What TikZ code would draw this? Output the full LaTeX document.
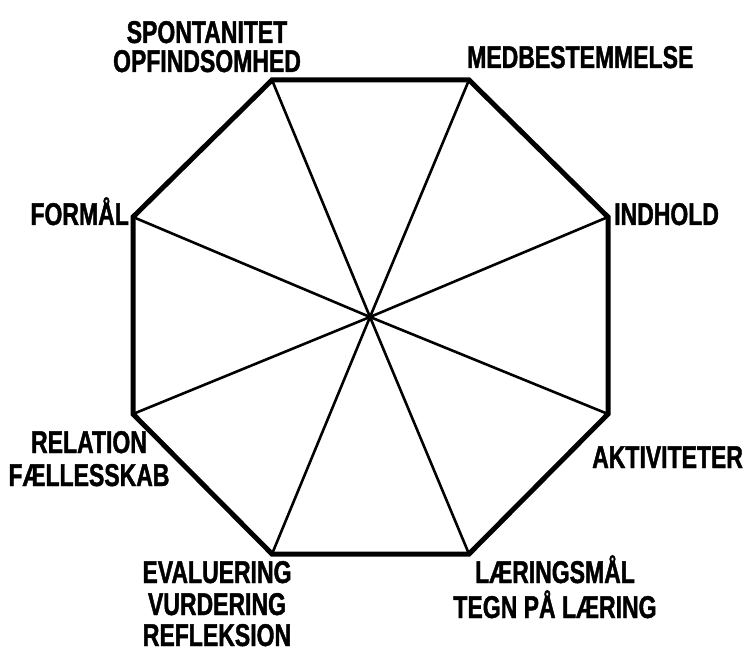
\documentclass[tikz,border=0pt]{standalone}
\usepackage{fontspec}
\setmainfont[FakeStretch=0.73,BoldFont={Liberation Sans Bold},BoldFeatures={FakeStretch=0.73,FakeBold=1.3}]{Liberation Sans}
\begin{document}
\begin{tikzpicture}[x=1pt,y=-1pt,
  lbl/.style={font=\fontsize{31.5}{32}\selectfont\bfseries, inner sep=0pt, anchor=base},
  rim/.style={line width=5pt, line join=miter},
  spoke/.style={line width=2.6pt}]
\useasboundingbox (0,0) rectangle (744,655);
\coordinate (c) at (370,317);
\coordinate (v1) at (272,80);
\coordinate (v2) at (469,80);
\coordinate (v3) at (608,217);
\coordinate (v4) at (608,414);
\coordinate (v5) at (469,554);
\coordinate (v6) at (272,554);
\coordinate (v7) at (133,414);
\coordinate (v8) at (133,217);
\foreach \i in {1,...,8} \draw[spoke] (c) -- (v\i);
\draw[rim] (v1) -- (v2) -- (v3) -- (v4) -- (v5) -- (v6) -- (v7) -- (v8) -- cycle;
\fill (c) circle (3pt);
\node[lbl] (s1) at (207,43) {SPONTANITET};
\node[lbl] (s2) at (207,72) {OPFINDSOMHED};
\node[lbl, anchor=base west] (m) at (467,68) {MEDBESTEMMELSE};
\node[lbl, anchor=base east] (f) at (129,225) {FORMÅL};
\node[lbl, anchor=base west] (i) at (614,225) {INDHOLD};
\node[lbl] (r1) at (89,453) {RELATION};
\node[lbl] (r2) at (89,486) {FÆLLESSKAB};
\node[lbl, anchor=base west] (a) at (592,468) {AKTIVITETER};
\node[lbl] (e1) at (217,583) {EVALUERING};
\node[lbl] (e2) at (217,615) {VURDERING};
\node[lbl] (e3) at (217,646) {REFLEKSION};
\node[lbl] (l1) at (555,583) {LÆRINGSMÅL};
\node[lbl] (l2) at (555,618) {TEGN PÅ LÆRING};
\end{tikzpicture}
\end{document}
